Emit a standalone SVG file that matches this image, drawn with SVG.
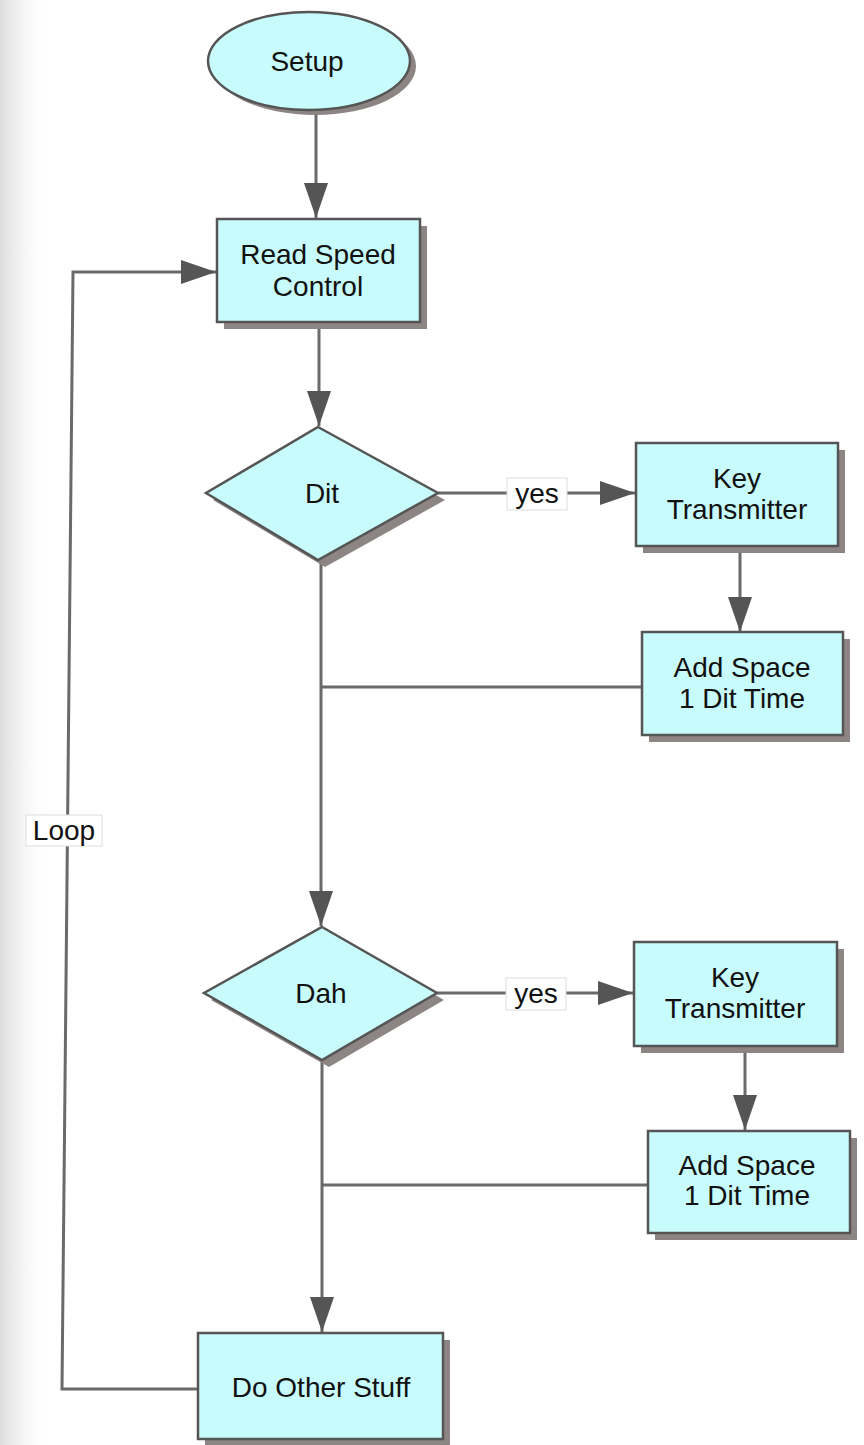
<svg xmlns="http://www.w3.org/2000/svg" width="864" height="1445" viewBox="0 0 864 1445">
<style>
.node{fill:#c8fbfb;stroke:#555;stroke-width:2.5}
.shadow{fill:#8d8484}
.lbl{font-family:"Liberation Sans",Arial,sans-serif;font-size:28px;fill:#111;text-anchor:middle}
.conn{fill:none;stroke:#6a6a6a;stroke-width:3}
.tag{fill:#fff;stroke:#ddd;stroke-width:1}
</style>
<defs>
<marker id="arr" markerUnits="userSpaceOnUse" markerWidth="36" markerHeight="26" refX="35" refY="12" orient="auto">
<path d="M0,0 L35,12 L0,24 z" fill="#555"/>
</marker>
<linearGradient id="edge" x1="0" y1="0" x2="1" y2="0">
<stop offset="0" stop-color="#dcdcdc"/>
<stop offset="1" stop-color="#fff" stop-opacity="0"/>
</linearGradient>
</defs>
<rect width="864" height="1445" fill="#fff"/>
<rect width="50" height="1445" fill="url(#edge)"/>

<g id="connectors">
<line class="conn" x1="316" y1="110" x2="316" y2="218" marker-end="url(#arr)"/>
<line class="conn" x1="319" y1="322" x2="319" y2="426" marker-end="url(#arr)"/>
<line class="conn" x1="438" y1="493" x2="635" y2="493" marker-end="url(#arr)"/>
<line class="conn" x1="740" y1="546" x2="740" y2="632" marker-end="url(#arr)"/>
<line class="conn" x1="642" y1="687" x2="321" y2="687"/>
<line class="conn" x1="321" y1="560" x2="321" y2="926" marker-end="url(#arr)"/>
<line class="conn" x1="437" y1="993" x2="633" y2="993" marker-end="url(#arr)"/>
<line class="conn" x1="745" y1="1046" x2="745" y2="1130" marker-end="url(#arr)"/>
<line class="conn" x1="648" y1="1185" x2="322" y2="1185"/>
<line class="conn" x1="322" y1="1060" x2="322" y2="1332" marker-end="url(#arr)"/>
<polyline class="conn" points="198,1389 62,1389 73,272 216,272" marker-end="url(#arr)"/>
<rect class="tag" x="507" y="478" width="60" height="32"/>
<text class="lbl" x="537" y="503">yes</text>
<rect class="tag" x="506" y="978" width="60" height="32"/>
<text class="lbl" x="536" y="1003">yes</text>
<rect class="tag" x="26" y="815" width="76" height="31"/>
<text class="lbl" x="64" y="840">Loop</text>
</g>

<g id="setup">
<ellipse class="shadow" cx="315" cy="66" rx="101" ry="49"/>
<ellipse class="node" cx="309" cy="61" rx="101" ry="49"/>
<text class="lbl" x="307" y="71">Setup</text>
</g>

<g id="read-speed">
<rect class="shadow" x="224" y="226" width="203" height="103"/>
<rect class="node" x="217" y="219" width="203" height="103"/>
<text class="lbl" x="318" y="264">Read Speed</text>
<text class="lbl" x="318" y="296">Control</text>
</g>

<g id="dit">
<polygon class="shadow" points="325,434 445,500 325,567 213,500"/>
<polygon class="node" points="318,427 438,493 318,560 206,493"/>
<text class="lbl" x="322" y="503">Dit</text>
</g>

<g id="key1">
<rect class="shadow" x="643" y="450" width="202" height="103"/>
<rect class="node" x="636" y="443" width="202" height="103"/>
<text class="lbl" x="737" y="488">Key</text>
<text class="lbl" x="737" y="519">Transmitter</text>
</g>

<g id="space1">
<rect class="shadow" x="649" y="639" width="201" height="103"/>
<rect class="node" x="642" y="632" width="201" height="103"/>
<text class="lbl" x="742" y="677">Add Space</text>
<text class="lbl" x="742" y="708">1 Dit Time</text>
</g>

<g id="dah">
<polygon class="shadow" points="329,934 444,1000 329,1067 211,1000"/>
<polygon class="node" points="322,927 437,993 322,1060 204,993"/>
<text class="lbl" x="321" y="1003">Dah</text>
</g>

<g id="key2">
<rect class="shadow" x="641" y="949" width="203" height="104"/>
<rect class="node" x="634" y="942" width="203" height="104"/>
<text class="lbl" x="735" y="987">Key</text>
<text class="lbl" x="735" y="1018">Transmitter</text>
</g>

<g id="space2">
<rect class="shadow" x="655" y="1138" width="202" height="102"/>
<rect class="node" x="648" y="1131" width="202" height="102"/>
<text class="lbl" x="747" y="1175">Add Space</text>
<text class="lbl" x="747" y="1205">1 Dit Time</text>
</g>

<g id="other">
<rect class="shadow" x="205" y="1340" width="245" height="107"/>
<rect class="node" x="198" y="1333" width="245" height="106"/>
<text class="lbl" x="321" y="1397">Do Other Stuff</text>
</g>
</svg>
